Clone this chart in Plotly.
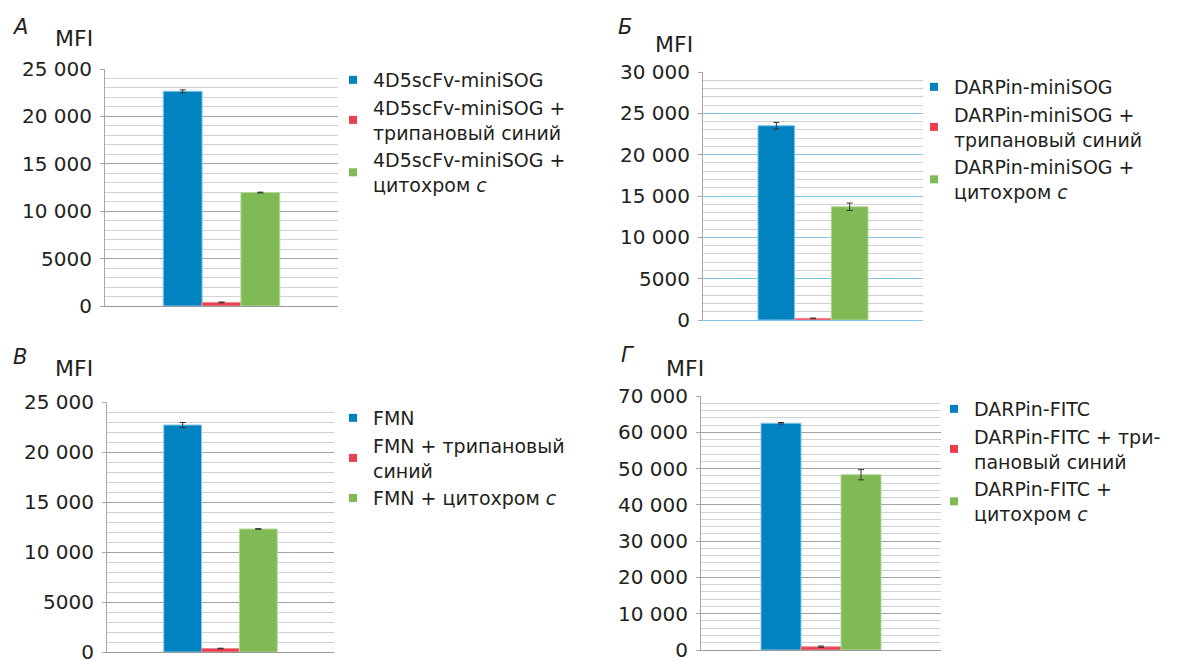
import plotly.graph_objects as go

# ---------------- data ----------------
category = ["MFI"]

panel_letters = ["А", "Б", "В", "Г"]

names_A = ["4D5scFv-miniSOG", "4D5scFv-miniSOG +<br>трипановый синий", "4D5scFv-miniSOG +<br>цитохром <i>c</i>"]
values_A = [22650, 380, 11970]
errors_A = [150, 40, 40]

names_B = ["DARPin-miniSOG", "DARPin-miniSOG +<br>трипановый синий", "DARPin-miniSOG +<br>цитохром <i>c</i>"]
values_B = [23500, 200, 13700]
errors_B = [400, 30, 450]

names_V = ["FMN", "FMN + трипановый<br>синий", "FMN + цитохром <i>c</i>"]
values_V = [22700, 350, 12300]
errors_V = [250, 30, 30]

names_G = ["DARPin-FITC", "DARPin-FITC + три-<br>пановый синий", "DARPin-FITC +<br>цитохром <i>c</i>"]
values_G = [62500, 900, 48300]
errors_G = [200, 200, 1400]

y_max = [25000, 30000, 25000, 70000]
y_major = [5000, 5000, 5000, 10000]
y_minor = [1000, 1000, 1000, 2000]

colors = ["#0083c0", "#e8404f", "#7fba55"]
edge_colors = ["#86c6e8", "#f08a93", "#b3d79a"]

# ---------------- layout geometry (window pixels) ----------------
OFF = 8                       # page body margin in the browser
W, H = 1180 - OFF, 661 - OFF

def px(x):
    return (x - OFF) / W

def py(y):
    return 1 - (y - OFF) / H

boxes = [  # left, right, top, bottom in window px
    (105, 338, 69, 306),
    (703, 923, 72, 320),
    (107, 334, 402, 652),
    (701, 941, 396, 650),
]
legend_pos = [(333, 61), (914, 68), (333, 399), (934, 390)]
letter_pos = [(20, 27), (625, 27), (20, 357), (628, 355)]
mfi_pos = [(74, 38), (674, 44), (74, 368), (685, 368)]

panels = [
    (names_A, values_A, errors_A),
    (names_B, values_B, errors_B),
    (names_V, values_V, errors_V),
    (names_G, values_G, errors_G),
]

def fmt(v):
    if v >= 10000:
        return f"{v:,}".replace(",", " ")
    return str(v)

fig = go.Figure()
font = "DejaVu Sans"
text_color = "#231f20"

for i, (names, vals, errs) in enumerate(panels):
    ax = "" if i == 0 else str(i + 1)
    leg = "legend" if i == 0 else f"legend{i + 1}"
    for j in range(3):
        fig.add_trace(go.Bar(
            x=category, y=[vals[j]], name=names[j],
            marker=dict(color=colors[j], line=dict(color=edge_colors[j], width=1)),
            error_y=dict(type="data", array=[errs[j]], color="#333333", thickness=1, width=3),
            xaxis="x" + ax, yaxis="y" + ax, showlegend=False,
        ))
        fig.add_trace(go.Scatter(
            x=[None], y=[None], mode="markers", name=names[j],
            marker=dict(symbol="square", size=8, color=colors[j]),
            xaxis="x" + ax, yaxis="y" + ax, legend=leg, showlegend=True,
        ))

    l, r, t, b = boxes[i]
    xd = [px(l), px(r)]
    yd = [py(b), py(t)]
    major_grid = "#7fc6ea" if i == 1 else "#a3a3a3"
    tickvals = list(range(0, y_max[i] + 1, y_major[i]))
    fig.update_layout(**{
        "xaxis" + ax: dict(domain=xd, anchor="y" + ax, showticklabels=False, showgrid=False,
                           showline=True, linecolor=major_grid if i == 1 else "#999999",
                           linewidth=1, ticks="", zeroline=False, fixedrange=True),
        "yaxis" + ax: dict(domain=yd, anchor="x" + ax, range=[0, y_max[i]],
                           tickmode="array", tickvals=tickvals,
                           ticktext=[fmt(v) for v in tickvals],
                           showgrid=True, gridcolor=major_grid, gridwidth=1,
                           minor=dict(tickmode="linear", tick0=0, dtick=y_minor[i],
                                      showgrid=True, gridcolor="#d2d2d2", gridwidth=1),
                           zeroline=False, showline=True, linecolor="#a8a8a8", linewidth=1,
                           ticks="outside", ticklen=4, tickcolor="#a8a8a8",
                           ticklabelstandoff=4, ticklabeloverflow="allow",
                           tickfont=dict(family=font, size=20, color=text_color),
                           fixedrange=True),
        leg: dict(x=px(legend_pos[i][0]), y=py(legend_pos[i][1]),
                  xanchor="left", yanchor="top", bgcolor="rgba(0,0,0,0)",
                  font=dict(family=font, size=19, color=text_color),
                  itemwidth=30, tracegroupgap=0),
    })

    fig.add_annotation(text=f"<i>{panel_letters[i]}</i>", x=px(letter_pos[i][0]), y=py(letter_pos[i][1]),
                       xref="paper", yref="paper", xanchor="center", yanchor="middle",
                       showarrow=False, font=dict(family=font, size=21, color=text_color))
    fig.add_annotation(text="MFI", x=px(mfi_pos[i][0]), y=py(mfi_pos[i][1]),
                       xref="paper", yref="paper", xanchor="center", yanchor="middle",
                       showarrow=False, font=dict(family=font, size=22, color=text_color))

fig.update_layout(
    width=W, height=H, margin=dict(l=0, r=0, t=0, b=0, autoexpand=False),
    paper_bgcolor="white", plot_bgcolor="white",
    barmode="group", bargap=0.5, bargroupgap=0,
)

fig.write_html("out.html")
